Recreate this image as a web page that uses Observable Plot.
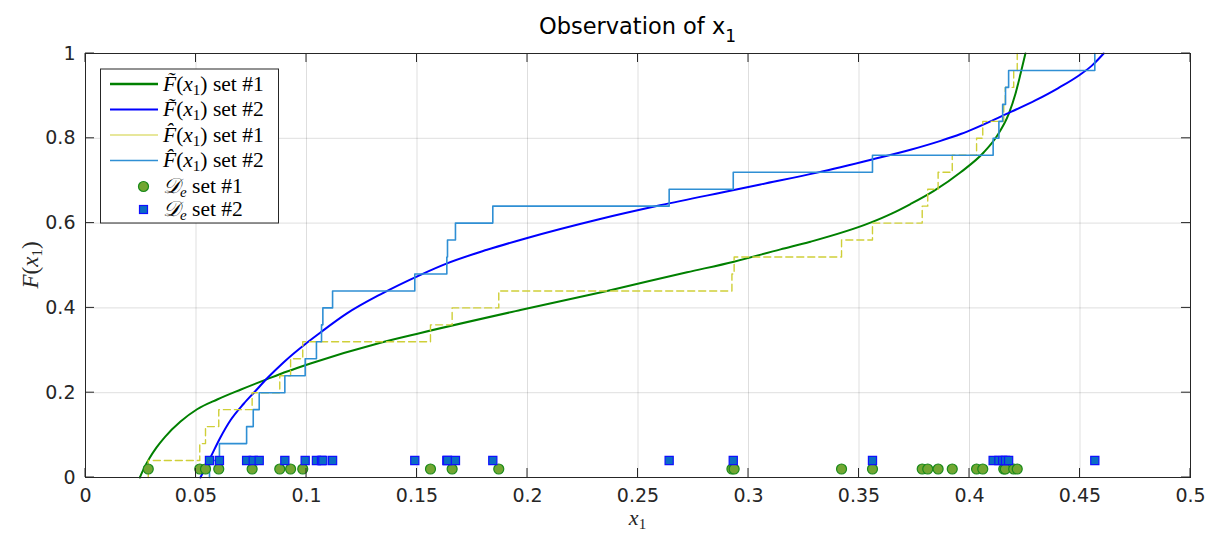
<!DOCTYPE html>
<html>
<head>
<meta charset="utf-8">
<script src="https://cdn.jsdelivr.net/npm/d3@7"></script>
<script src="https://cdn.jsdelivr.net/npm/@observablehq/plot@0.6"></script>
<style>
  html, body { margin: 0; padding: 0; background: #ffffff; }
  svg { display: block; }
</style>
</head>
<body>
<div id="chart"></div>
<script>
// ---------------- data ----------------
const set1Samples = [0.0284, 0.0517, 0.0543, 0.0603, 0.0754, 0.0879, 0.0928, 0.0983,
  0.1561, 0.1659, 0.1870, 0.2925, 0.2935, 0.3421, 0.3561, 0.3786, 0.3811, 0.3858,
  0.3922, 0.4032, 0.4060, 0.4155, 0.4162, 0.4200, 0.4216];
const set2Samples = [0.0561, 0.0606, 0.0729, 0.0759, 0.0786, 0.0902, 0.0994, 0.1045,
  0.1068, 0.1074, 0.1118, 0.1490, 0.1635, 0.1638, 0.1674, 0.1843, 0.2641, 0.2931,
  0.3561, 0.4107, 0.4133, 0.4150, 0.4163, 0.4177, 0.4567];
const set1MarkerLevel = 0.02;
const set2MarkerLevel = 0.04;

const fit1X = [0.0246, 0.0265, 0.0290, 0.0320, 0.0360, 0.0430, 0.0505, 0.0596, 0.0701, 0.0822,
  0.0912, 0.1018, 0.1335, 0.1516, 0.1968, 0.2360, 0.2722, 0.2934, 0.3145, 0.3280,
  0.3552, 0.3650, 0.3733, 0.3839, 0.3960, 0.4065, 0.4125, 0.4178, 0.4208, 0.4231, 0.4253];
const fit1Y = [0.000, 0.022, 0.046, 0.070, 0.096, 0.132, 0.161, 0.184, 0.207, 0.232,
  0.250, 0.269, 0.318, 0.341, 0.395, 0.440, 0.484, 0.509, 0.538, 0.556,
  0.601, 0.623, 0.645, 0.676, 0.720, 0.767, 0.806, 0.858, 0.905, 0.952, 1.000];

const fit2X = [0.0520, 0.0566, 0.0611, 0.0656, 0.0716, 0.0769, 0.0822, 0.0897, 0.0995,
  0.1063, 0.1183, 0.1335, 0.1516, 0.1636, 0.1817, 0.1999, 0.2315, 0.2600, 0.2934,
  0.3054, 0.3311, 0.3559, 0.3733, 0.3869, 0.3960, 0.4170, 0.4300, 0.4400, 0.4500,
  0.4555, 0.4607];
const fit2Y = [0.000, 0.048, 0.095, 0.135, 0.174, 0.204, 0.234, 0.272, 0.315,
  0.342, 0.387, 0.432, 0.478, 0.505, 0.537, 0.565, 0.608, 0.642, 0.678,
  0.691, 0.719, 0.750, 0.773, 0.794, 0.810, 0.858, 0.890, 0.918, 0.950,
  0.972, 1.000];

const xTicks = [0, 0.05, 0.1, 0.15, 0.2, 0.25, 0.3, 0.35, 0.4, 0.45, 0.5];
const xTickLabels = ["0", "0.05", "0.1", "0.15", "0.2", "0.25", "0.3", "0.35", "0.4", "0.45", "0.5"];
const yTicks = [0, 0.2, 0.4, 0.6, 0.8, 1];
const yTickLabels = ["0", "0.2", "0.4", "0.6", "0.8", "1"];

const titleMain = "Observation of x";
const titleSub = "1";
const legendSets = ["set #1", "set #2", "set #1", "set #2", "set #1", "set #2"];

// ---------------- derived tables ----------------
const fit1 = fit1X.map((x, i) => ({x, y: fit1Y[i]}));
const fit2 = fit2X.map((x, i) => ({x, y: fit2Y[i]}));
function ecdf(samples) {
  const s = samples.slice().sort((a, b) => a - b);
  const n = s.length;
  const pts = [{x: s[0], y: 0}];
  s.forEach((v, i) => pts.push({x: v, y: (i + 1) / n}));
  return pts;
}
const ecdf1 = ecdf(set1Samples);
const ecdf2 = ecdf(set2Samples);
const marks1 = set1Samples.map(x => ({x, y: set1MarkerLevel}));
const marks2 = set2Samples.map(x => ({x, y: set2MarkerLevel}));

const C = {
  green: "#008000", blue: "#0000ff", yellow: "#cfcf38", lblue: "#2f8fd4",
  dotFill: "#72a632", dotStroke: "#1a8a1a", sqFill: "#0a6cc4", sqStroke: "#1010ff",
  axis: "#262626", grid: "#000000"
};

const chart = Plot.plot({
  width: 1214, height: 538,
  marginLeft: 85, marginRight: 24, marginTop: 53, marginBottom: 61,
  style: {fontFamily: "DejaVu Sans", fontSize: "19px", color: C.axis, background: "#ffffff"},
  x: {domain: [0, 0.5]},
  y: {domain: [0, 1]},
  marks: [
    Plot.gridX(xTicks, {stroke: C.grid, strokeOpacity: 0.13}),
    Plot.gridY(yTicks, {stroke: C.grid, strokeOpacity: 0.13}),
    Plot.line(fit1, {x: "x", y: "y", stroke: C.green, strokeWidth: 2, curve: "monotone-x"}),
    Plot.line(fit2, {x: "x", y: "y", stroke: C.blue, strokeWidth: 2, curve: "monotone-x"}),
    Plot.line(ecdf1, {x: "x", y: "y", stroke: C.yellow, strokeWidth: 1.4, strokeDasharray: "7,4", curve: "step-after"}),
    Plot.line(ecdf2, {x: "x", y: "y", stroke: C.lblue, strokeWidth: 1.6, curve: "step-after"}),
    Plot.dot(marks1, {x: "x", y: "y", r: 5, fill: C.dotFill, stroke: C.dotStroke, strokeWidth: 1.2}),
    Plot.dot(marks2, {x: "x", y: "y", r: 4.6, symbol: "square", fill: C.sqFill, stroke: C.sqStroke, strokeWidth: 1.2}),
    Plot.frame({stroke: C.axis, strokeWidth: 1}),
    Plot.axisX(xTicks, {tickSize: 0, tickPadding: 11, label: null, fill: C.axis,
      tickFormat: d => xTickLabels[xTicks.indexOf(d)]}),
    Plot.axisY(yTicks, {tickSize: 0, tickPadding: 10, label: null, fill: C.axis,
      tickFormat: d => yTickLabels[yTicks.indexOf(d)]})
  ]
});
document.getElementById("chart").appendChild(chart);

// ---------------- decorations drawn with the plot's scales ----------------
const sx = chart.scale("x"), sy = chart.scale("y");
const svg = d3.select(chart);
const X0 = sx.apply(0), X1 = sx.apply(0.5), Y0 = sy.apply(0), Y1 = sy.apply(1);
const tickLen = 9;
const tg = svg.append("g").attr("stroke", C.axis).attr("stroke-width", 1);
xTicks.forEach(v => {
  const p = sx.apply(v);
  tg.append("line").attr("x1", p).attr("x2", p).attr("y1", Y0).attr("y2", Y0 - tickLen);
  tg.append("line").attr("x1", p).attr("x2", p).attr("y1", Y1).attr("y2", Y1 + tickLen);
});
yTicks.forEach(v => {
  const p = sy.apply(v);
  tg.append("line").attr("x1", X0).attr("x2", X0 + tickLen).attr("y1", p).attr("y2", p);
  tg.append("line").attr("x1", X1).attr("x2", X1 - tickLen).attr("y1", p).attr("y2", p);
});

// title
const cx = (X0 + X1) / 2;
const title = svg.append("text").attr("x", cx).attr("y", 33.5).attr("text-anchor", "middle")
  .attr("font-family", "DejaVu Sans").attr("font-size", 22.5).attr("fill", "#000");
title.append("tspan").text(titleMain);
title.append("tspan").attr("font-size", 17).attr("dy", 8).text(titleSub);

const serif = "Liberation Serif";
// x label
const xl = svg.append("text").attr("x", cx).attr("y", 525).attr("text-anchor", "middle")
  .attr("font-family", serif).attr("font-size", 22).attr("fill", C.axis);
xl.append("tspan").attr("font-style", "italic").text("x");
xl.append("tspan").attr("font-size", 15).attr("dy", 4).text("1");

// y label
const yl = svg.append("text").attr("transform", `translate(38,${(Y0 + Y1) / 2}) rotate(-90)`)
  .attr("text-anchor", "middle").attr("font-family", serif).attr("font-size", 23).attr("fill", C.axis);
yl.append("tspan").attr("font-style", "italic").text("F");
yl.append("tspan").text("(");
yl.append("tspan").attr("font-style", "italic").text("x");
yl.append("tspan").attr("font-size", 15).attr("dy", 4).text("1");
yl.append("tspan").attr("dy", -4).text(")");

// legend
const lg = svg.append("g");
lg.append("rect").attr("x", 100.5).attr("y", 69).attr("width", 178).attr("height", 154)
  .attr("fill", "#fff").attr("stroke", C.axis).attr("stroke-width", 1);
const rows = [84, 109.5, 135, 160.5, 186.5, 209.5];
const lineStyles = [
  {c: C.green, w: 2.5}, {c: C.blue, w: 2}, {c: C.yellow, w: 1.2}, {c: C.lblue, w: 1.6}
];
lineStyles.forEach((s, i) => {
  lg.append("line").attr("x1", 110).attr("x2", 158).attr("y1", rows[i]).attr("y2", rows[i])
    .attr("stroke", s.c).attr("stroke-width", s.w);
});
lg.append("circle").attr("cx", 143.5).attr("cy", rows[4]).attr("r", 5)
  .attr("fill", C.dotFill).attr("stroke", C.dotStroke).attr("stroke-width", 1.2);
lg.append("rect").attr("x", 139.5).attr("y", rows[5] - 4).attr("width", 8).attr("height", 8)
  .attr("fill", C.sqFill).attr("stroke", C.sqStroke).attr("stroke-width", 1.2);
const accents = ["\u0303", "\u0303", "\u0302", "\u0302"];
rows.forEach((ry, i) => {
  const t = lg.append("text").attr("x", 163).attr("y", ry + 6.5).attr("text-anchor", "start")
    .attr("font-family", serif).attr("font-size", 21.5).attr("fill", "#000");
  if (i < 4) {
    t.append("tspan").attr("font-style", "italic").text("F" + accents[i]);
    t.append("tspan").text("(");
    t.append("tspan").attr("font-style", "italic").text("x");
    t.append("tspan").attr("font-size", 15).attr("dy", 4).text("1");
    t.append("tspan").attr("dy", -4).text(") " + legendSets[i]);
  } else {
    t.append("tspan").attr("font-style", "italic").text("\u{1D49F}");
    t.append("tspan").attr("font-size", 15).attr("font-style", "italic").attr("dy", 4).text("e");
    t.append("tspan").attr("dy", -4).text(" " + legendSets[i]);
  }
});
</script>
</body>
</html>
